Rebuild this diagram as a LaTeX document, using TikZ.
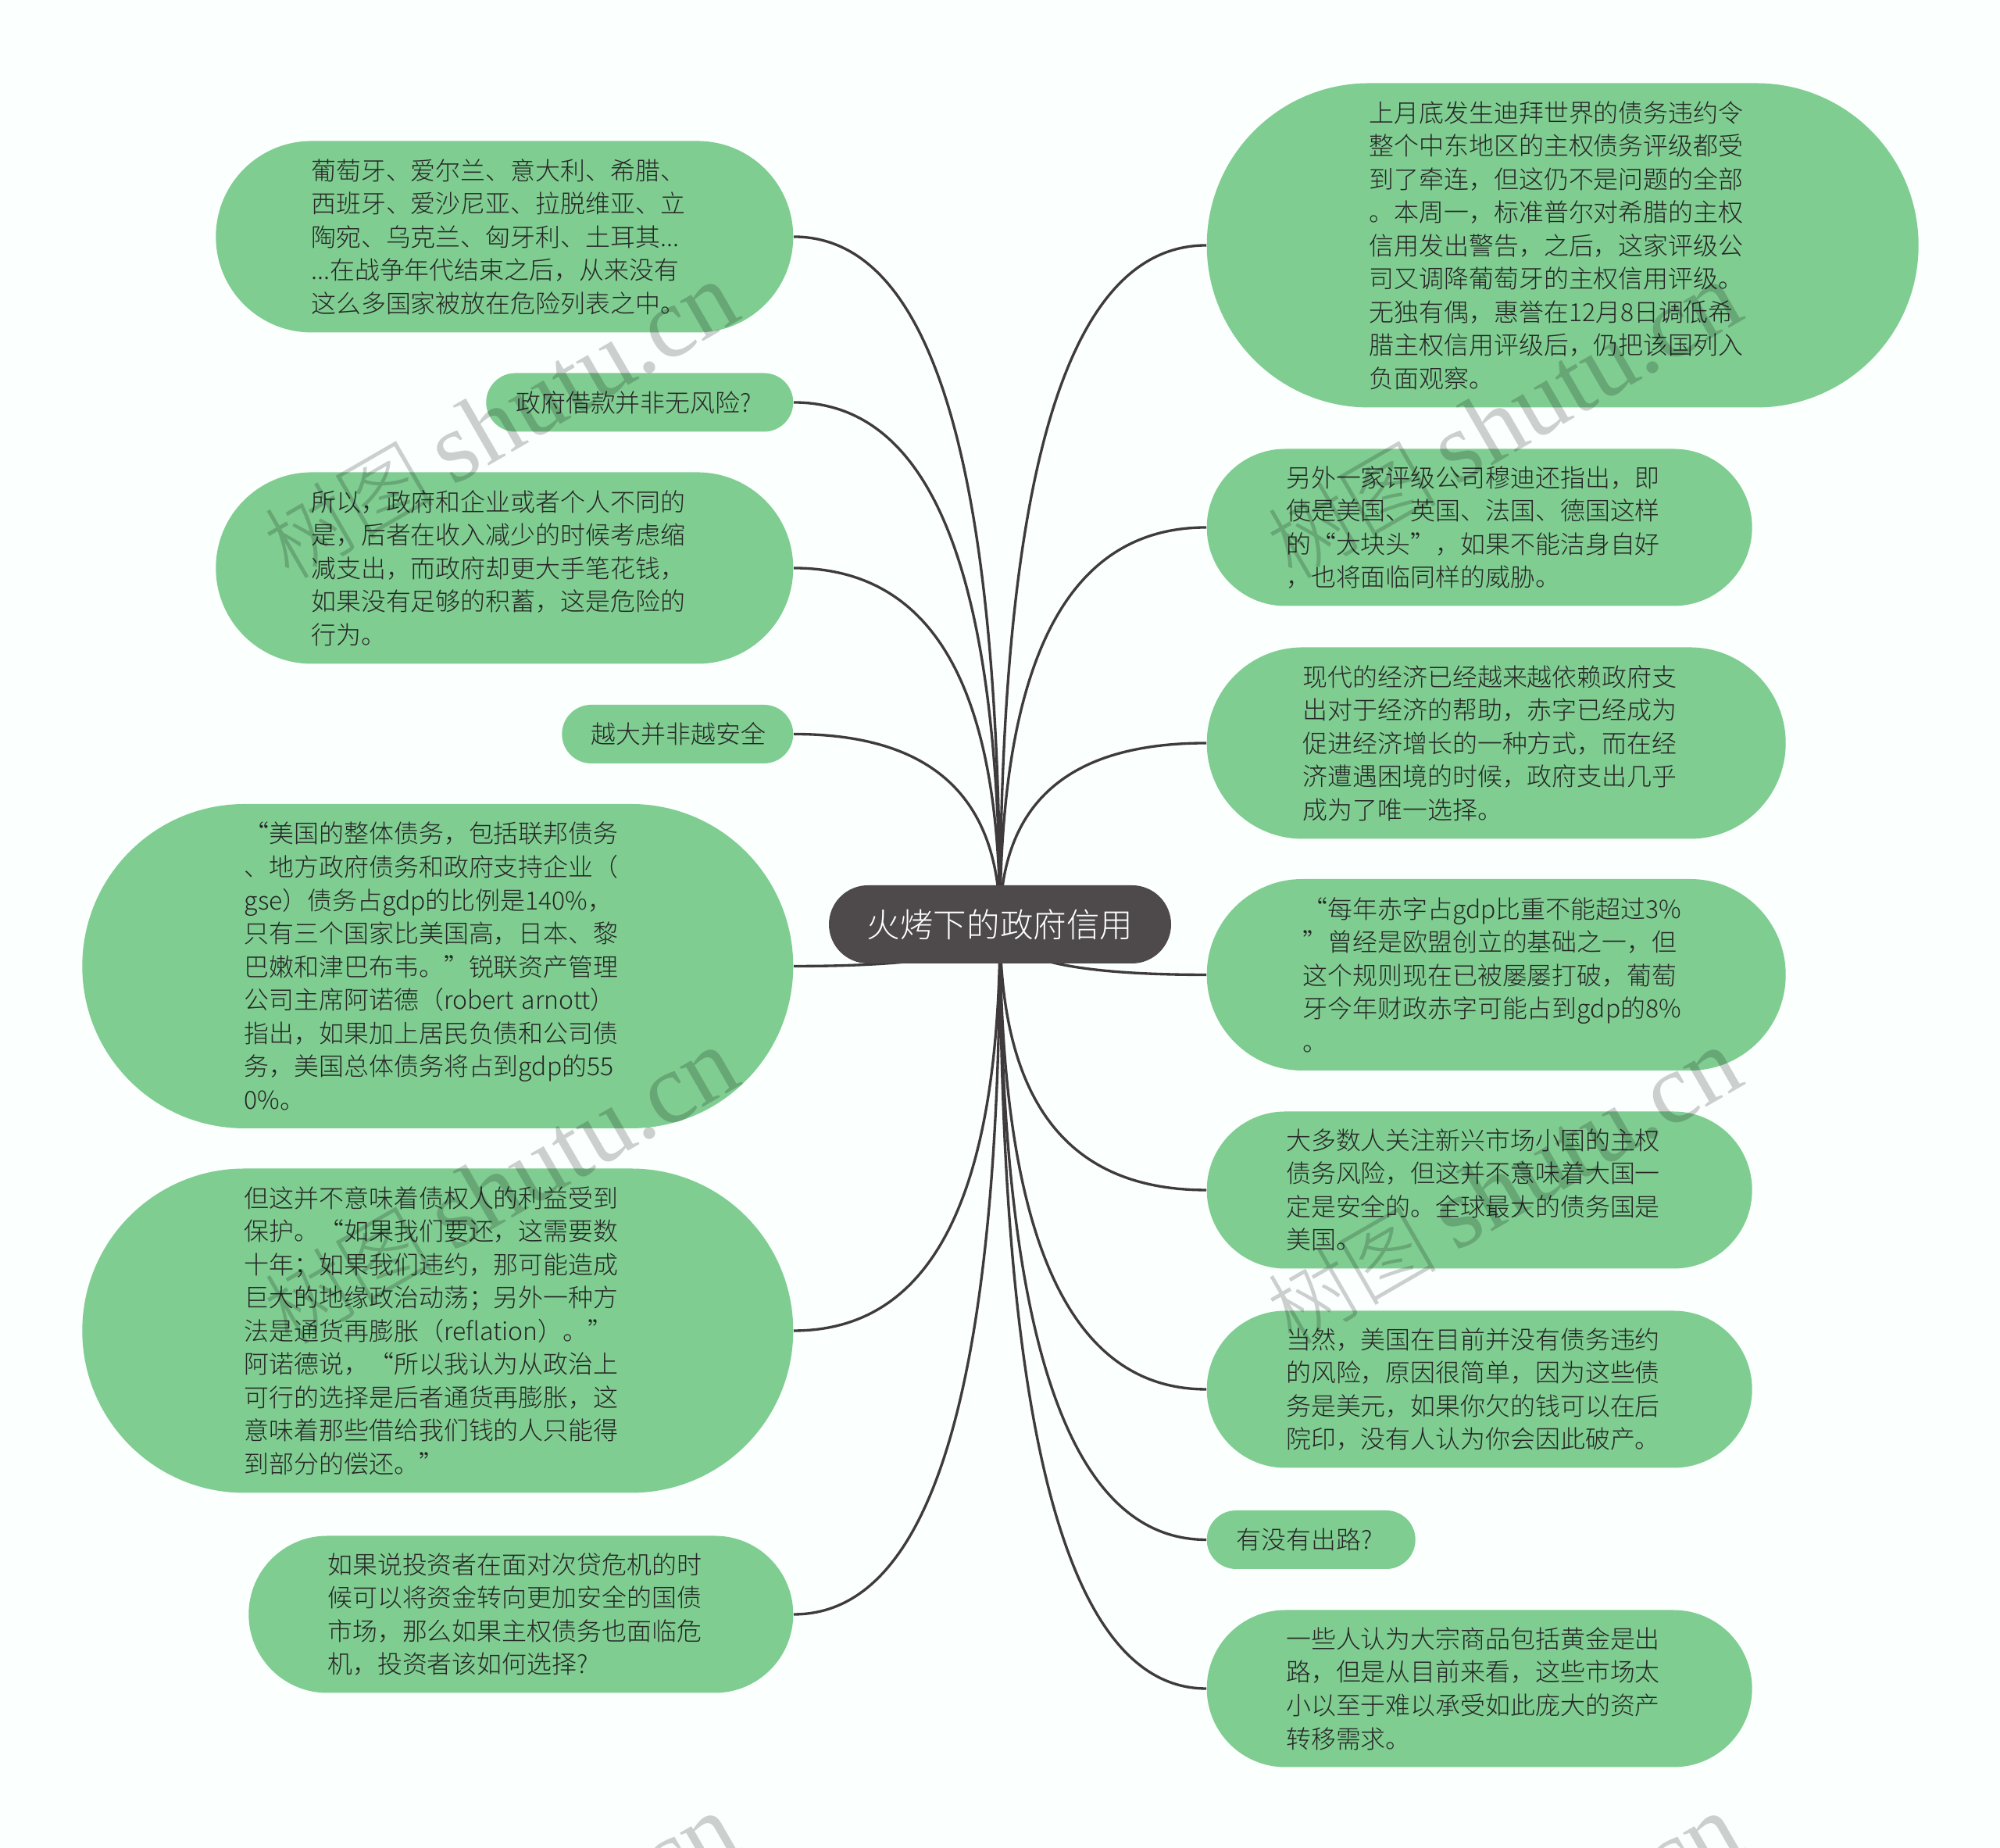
\documentclass[tikz,border=0pt]{standalone}
\usepackage{fontspec}
\setmainfont{Noto Sans CJK SC Light}
\newfontfamily\markfont{Liberation Serif}
\usetikzlibrary{shapes.misc,backgrounds,calc}
\definecolor{leafgreen}{HTML}{7FCD91}
\definecolor{rootgray}{HTML}{4E4A4B}
\definecolor{linegray}{HTML}{3F3B3C}
\definecolor{pagetint}{HTML}{FBFFFE}
\tikzset{
	leaf/.style={rounded rectangle,fill=leafgreen,text=black!85,align=left,text width=4.95cm,inner xsep=0pt,inner ysep=0pt,font=\fontsize{9.08pt}{12.1pt}\selectfont},
	leafwest/.style={leaf,anchor=west},
	leafeast/.style={leaf,anchor=east},
	rootnode/.style={rounded rectangle,fill=rootgray,text=white,minimum width=4.38cm,minimum height=1cm,inner sep=0pt,font=\fontsize{12.1pt}{14pt}\selectfont},
	link/.style={draw=linegray,line width=0.95pt,to path={.. controls ($(\tikztostart)!0.67!(\tikztostart |- \tikztotarget)$) and ($(\tikztotarget)!0.67!(\tikztostart |- \tikztotarget)$) .. (\tikztotarget)}},
	stamp/.style={rotate=30,text=black,opacity=0.19,font=\fontsize{31pt}{40pt}\selectfont}
}
\newcommand{\stamptext}{树图 {\markfont\fontsize{36.5pt}{40pt}\selectfont shutu.cn}}

\begin{document}
\begin{tikzpicture}
	\useasboundingbox (0,0) rectangle (25.6,23.65);
	\begin{pgfonlayer}{background}
		\fill[pagetint] (0,0) rectangle (25.6,23.65);
	\end{pgfonlayer}

	\node[rootnode] (root) at (12.80,11.82) {火烤下的政府信用};

	% left side
	\node[leafeast,minimum width=7.39cm,minimum height=2.45cm] (portugal) at (10.16,20.62) {葡萄牙、爱尔兰、意大利、希腊、\\西班牙、爱沙尼亚、拉脱维亚、立\\陶宛、乌克兰、匈牙利、土耳其...\\...在战争年代结束之后，从来没有\\这么多国家被放在危险列表之中。};
	\node[leafeast,minimum width=3.93cm,minimum height=0.75cm,text width=3.17cm] (loans) at (10.16,18.50) {政府借款并非无风险?};
	\node[leafeast,minimum width=7.39cm,minimum height=2.45cm] (spending) at (10.16,16.38) {所以，政府和企业或者个人不同的\\是，后者在收入减少的时候考虑缩\\减支出，而政府却更大手笔花钱，\\如果没有足够的积蓄，这是危险的\\行为。};
	\node[leafeast,minimum width=2.96cm,minimum height=0.75cm,text width=2.21cm] (bigger) at (10.16,14.255) {越大并非越安全};
	\node[leafeast,minimum width=9.1cm,minimum height=4.15cm] (usdebt) at (10.16,11.285) {“美国的整体债务，包括联邦债务\\、地方政府债务和政府支持企业（\\gse）债务占gdp的比例是140\%，\\只有三个国家比美国高，日本、黎\\巴嫩和津巴布韦。”锐联资产管理\\公司主席阿诺德（robert arnott）\\指出，如果加上居民负债和公司债\\务，美国总体债务将占到gdp的55\\0\%。};
	\node[leafeast,minimum width=9.1cm,minimum height=4.15cm] (creditor) at (10.16,6.62) {但这并不意味着债权人的利益受到\\保护。“如果我们要还，这需要数\\十年；如果我们违约，那可能造成\\巨大的地缘政治动荡；另外一种方\\法是通货再膨胀（reflation）。”\\阿诺德说，“所以我认为从政治上\\可行的选择是后者通货再膨胀，这\\意味着那些借给我们钱的人只能得\\到部分的偿还。”};
	\node[leafeast,minimum width=6.97cm,minimum height=2.01cm] (investor) at (10.16,2.99) {如果说投资者在面对次贷危机的时\\候可以将资金转向更加安全的国债\\市场，那么如果主权债务也面临危\\机，投资者该如何选择?};

	% right side
	\node[leafwest,minimum width=9.11cm,minimum height=4.15cm] (dubai) at (15.44,20.51) {上月底发生迪拜世界的债务违约令\\整个中东地区的主权债务评级都受\\到了牵连，但这仍不是问题的全部\\。本周一，标准普尔对希腊的主权\\信用发出警告，之后，这家评级公\\司又调降葡萄牙的主权信用评级。\\无独有偶，惠誉在12月8日调低希\\腊主权信用评级后，仍把该国列入\\负面观察。};
	\node[leafwest,minimum width=6.98cm,minimum height=2.01cm] (moody) at (15.44,16.90) {另外一家评级公司穆迪还指出，即\\使是美国、英国、法国、德国这样\\的“大块头”，如果不能洁身自好\\，也将面临同样的威胁。};
	\node[leafwest,minimum width=7.41cm,minimum height=2.45cm] (economy) at (15.44,14.14) {现代的经济已经越来越依赖政府支\\出对于经济的帮助，赤字已经成为\\促进经济增长的一种方式，而在经\\济遭遇困境的时候，政府支出几乎\\成为了唯一选择。};
	\node[leafwest,minimum width=7.41cm,minimum height=2.45cm] (deficit) at (15.44,11.175) {“每年赤字占gdp比重不能超过3\%\\”曾经是欧盟创立的基础之一，但\\这个规则现在已被屡屡打破，葡萄\\牙今年财政赤字可能占到gdp的8\%\\。};
	\node[leafwest,minimum width=6.98cm,minimum height=2.01cm] (emerging) at (15.44,8.42) {大多数人关注新兴市场小国的主权\\债务风险，但这并不意味着大国一\\定是安全的。全球最大的债务国是\\美国。};
	\node[leafwest,minimum width=6.98cm,minimum height=2.01cm] (dollar) at (15.44,5.87) {当然，美国在目前并没有债务违约\\的风险，原因很简单，因为这些债\\务是美元，如果你欠的钱可以在后\\院印，没有人认为你会因此破产。};
	\node[leafwest,minimum width=2.67cm,minimum height=0.75cm,text width=1.91cm] (wayout) at (15.44,3.945) {有没有出路?};
	\node[leafwest,minimum width=6.98cm,minimum height=2.01cm] (gold) at (15.44,2.04) {一些人认为大宗商品包括黄金是出\\路，但是从目前来看，这些市场太\\小以至于难以承受如此庞大的资产\\转移需求。};

	\begin{pgfonlayer}{background}
		\draw[link] (root.center) to (portugal.east);
		\draw[link] (root.center) to (loans.east);
		\draw[link] (root.center) to (spending.east);
		\draw[link] (root.center) to (bigger.east);
		\draw[link] (root.center) to (usdebt.east);
		\draw[link] (root.center) to (creditor.east);
		\draw[link] (root.center) to (investor.east);
		\draw[link] (root.center) to (dubai.west);
		\draw[link] (root.center) to (moody.west);
		\draw[link] (root.center) to (economy.west);
		\draw[link] (root.center) to (deficit.west);
		\draw[link] (root.center) to (emerging.west);
		\draw[link] (root.center) to (dollar.west);
		\draw[link] (root.center) to (wayout.west);
		\draw[link] (root.center) to (gold.west);
	\end{pgfonlayer}

	% watermark
	\node[stamp] (stampa) at (6.41,18.26) {\stamptext};
	\node[stamp] (stampb) at (19.25,18.26) {\stamptext};
	\node[stamp] (stampc) at (6.41,8.46) {\stamptext};
	\node[stamp] (stampd) at (19.25,8.46) {\stamptext};
	\node[stamp] (stampe) at (6.41,-1.34) {\stamptext};
	\node[stamp] (stampf) at (19.25,-1.34) {\stamptext};
\end{tikzpicture}
\end{document}
